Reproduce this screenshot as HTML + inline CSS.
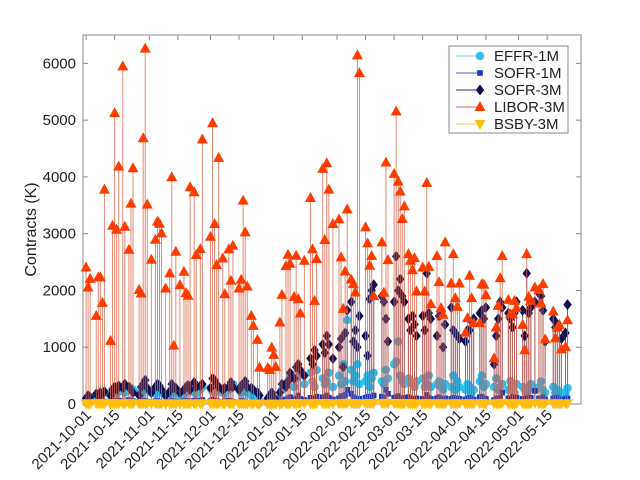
<!DOCTYPE html>
<html><head><meta charset="utf-8"><style>
body{margin:0;background:#fff;}
svg{display:block;font-family:"Liberation Sans",sans-serif;}
</style></head><body>
<svg id="chart" width="640" height="480"></svg>
<script>
// Day offsets from 2021-10-01 (trading days)
const days = [0,1,2,5,6,7,8,9,12,13,14,15,16,18,19,21,22,23,26,27,28,29,30,32,34,35,36,37,39,41,42,43,44,46,48,49,50,51,53,54,56,57,61,62,63,64,65,67,68,70,71,72,75,76,77,78,79,81,82,84,85,89,90,91,92,93,95,96,98,99,100,102,103,104,105,107,110,111,112,113,116,117,118,119,121,124,125,126,127,128,130,131,132,133,134,137,138,139,140,141,145,146,147,148,151,152,153,154,155,156,158,159,160,161,162,165,166,167,168,169,172,173,174,175,176,179,180,181,182,183,186,187,188,189,190,193,194,195,196,200,201,202,203,204,207,208,209,210,211,214,215,216,217,218,220,222,223,224,225,229,230,231,232,233,235,236];
const libor3m = [2405,2053,2205,1553,2230,2230,1782,3776,1112,3140,5123,3070,4182,5947,3123,2717,3529,4153,2011,1947,4682,6259,3512,2541,2894,3212,3176,3005,2035,2300,3994,1029,2682,2094,2329,1953,1906,3817,3729,2624,2729,4659,2947,4946,3171,2447,4335,2564,1935,2723,2170,2788,2035,2188,3582,3023,2070,1553,1376,1129,641,635,600,994,865,653,1435,1923,2429,2629,2470,1888,2611,1847,1594,2523,3629,2723,1817,2553,4141,2888,4241,3776,3171,3252,2582,1676,2335,3429,2194,2112,1964,6141,5829,3111,2829,2435,2606,1900,2847,1959,4253,2535,4053,5153,3918,3741,3259,3482,2641,2523,2359,2570,1982,2405,1982,3894,2417,1759,2606,2147,1688,1570,2847,2123,2641,1865,1711,2123,1258,1512,2259,1865,1424,1424,2112,2100,1918,806,1347,1729,2218,2606,1835,1582,1582,1817,1688,1394,947,2641,1888,1817,2053,2006,1770,2112,1141,1629,1159,1347,1394,965,1006,1476];
const sofr3m = [100,150,120,180,130,200,180,220,150,250,300,250,320,280,350,300,250,200,150,300,350,420,280,200,300,350,320,250,150,220,350,300,280,200,250,300,330,250,380,300,320,350,280,450,420,350,300,250,280,300,380,300,250,320,350,400,300,280,250,200,150,100,150,200,120,80,200,350,300,400,550,450,650,700,600,500,800,700,950,850,1050,900,1200,1050,800,1000,1150,650,1250,1650,1800,1100,1300,1000,1550,1200,850,1850,2000,2100,1900,1800,1500,1100,1800,2600,2000,2200,1900,1800,1500,1300,1550,1400,1200,1550,1300,2300,1600,1500,1200,1550,1650,1000,1400,1700,1300,1250,1200,1150,1100,1300,1300,1450,1500,1600,1650,1500,1700,700,1200,1500,1800,1700,1600,1500,1350,1600,1800,1650,1200,2300,1600,1700,1800,1950,1900,1650,1100,1500,1350,1400,1350,1150,1250,1750];
const effr1m = [60,80,100,120,90,150,180,200,150,250,200,180,220,250,200,300,280,250,200,180,300,280,250,200,180,220,250,200,150,180,250,200,220,150,180,200,300,250,200,180,250,300,280,220,200,250,300,200,180,250,300,350,250,200,300,250,200,150,100,80,50,60,50,80,60,50,100,250,350,400,500,300,450,600,500,350,550,400,300,600,450,350,400,550,300,500,350,700,400,1480,600,400,500,700,350,400,500,300,450,550,400,350,600,450,700,750,1100,500,400,350,450,400,350,300,400,450,300,350,500,300,350,400,300,250,350,300,500,250,400,300,250,350,300,200,250,400,500,300,350,300,450,250,300,350,250,400,300,200,350,300,250,200,300,350,250,300,400,250,200,300,200,250,150,200,200,280];
const sofr1m = [20,30,25,40,30,35,50,40,30,60,50,40,60,50,40,70,60,50,40,30,60,50,40,30,50,60,40,30,20,40,60,50,40,30,50,60,50,40,60,50,60,70,50,80,60,50,40,30,50,60,50,40,30,60,50,40,30,20,20,15,10,15,10,20,15,10,30,60,80,100,120,80,100,150,90,70,110,90,60,130,120,90,150,110,80,100,140,90,160,250,180,120,100,80,90,110,130,100,120,150,130,100,250,180,110,120,140,100,90,110,120,100,90,80,100,90,80,160,110,90,100,120,90,80,100,90,110,80,100,90,80,100,110,90,80,120,130,100,90,70,100,90,110,200,100,90,120,100,110,90,80,100,90,110,230,100,90,120,80,100,90,110,80,70,90,100];
const bsby3m = [10,12,8,15,10,12,14,10,8,15,12,10,14,12,10,15,12,10,8,12,14,12,10,8,12,14,10,8,6,10,12,10,8,6,10,12,10,8,12,10,12,14,10,15,12,10,8,6,10,12,10,8,6,12,10,8,6,5,5,4,3,4,3,5,4,3,6,8,10,12,14,10,12,16,12,10,14,12,10,15,14,12,16,14,10,12,15,12,16,20,18,14,12,10,12,14,16,12,14,18,16,12,20,18,14,15,16,12,10,14,15,12,10,8,12,10,8,16,14,10,12,14,10,8,12,10,14,10,12,10,8,12,14,10,8,14,16,12,10,8,12,10,14,20,12,10,14,12,14,10,8,12,10,14,20,12,10,14,8,12,10,14,8,6,10,12];
const yTicks = [0,1000,2000,3000,4000,5000,6000];
const xTickLabels = ["2021-10-01","2021-10-15","2021-11-01","2021-11-15","2021-12-01","2021-12-15","2022-01-01","2022-01-15","2022-02-01","2022-02-15","2022-03-01","2022-03-15","2022-04-01","2022-04-15","2022-05-01","2022-05-15"];

const NS="http://www.w3.org/2000/svg";
const svg=document.getElementById('chart');
const L=83,R=581,T=35,B=404;
const dMin=-1.5,dMax=242.6;
const yMax=6500;
function xs(d){return L+(d-dMin)/(dMax-dMin)*(R-L);}
function ys(v){return B-v/yMax*(B-T);}
function el(tag,attrs,parent){const e=document.createElementNS(NS,tag);for(const k in attrs)e.setAttribute(k,attrs[k]);(parent||svg).appendChild(e);return e;}
function dayOf(s){const t=Date.UTC(+s.slice(0,4),+s.slice(5,7)-1,+s.slice(8,10));return Math.round((t-Date.UTC(2021,9,1))/86400000);}

const frame=el('rect',{x:L,y:T,width:R-L,height:B-T,fill:'#fff',stroke:'#8a8a8a','stroke-width':1});



yTicks.forEach(v=>{
  const y=ys(v);
  const t1=el('line',{x1:L,x2:L+5,y1:y,y2:y,stroke:'#8a8a8a'});
  
  
  const t2=el('line',{x1:R,x2:R-5,y1:y,y2:y,stroke:'#8a8a8a'});
  
  
  const tx=el('text',{x:L-7,y:y+5,'text-anchor':'end','font-size':15,fill:'#222'});
  tx.textContent=v;
  
  
});
xTickLabels.forEach(s=>{
  const x=xs(dayOf(s));
  const t1=el('line',{x1:x,x2:x,y1:B,y2:B-5,stroke:'#8a8a8a'});
  
  
  const t2=el('line',{x1:x,x2:x,y1:T,y2:T+5,stroke:'#8a8a8a'});
  
  
  const ax=x+6,ay=B+12;
  const tx=el('text',{x:ax,y:ay,'text-anchor':'end','font-size':15,fill:'#222',transform:`rotate(-45 ${ax} ${ay})`});
  tx.textContent=s;
  
  
});
const yt=el('text',{x:36,y:(T+B)/2+10,'text-anchor':'middle','font-size':16,fill:'#222',transform:`rotate(-90 36 ${(T+B)/2+10})`});
yt.textContent='Contracts (K)';



function marker(kind,x,y,color,g){
  if(kind==='circle')return el('circle',{cx:x,cy:y,r:4.2,fill:color},g);
  if(kind==='square')return el('rect',{x:x-2.8,y:y-2.8,width:5.6,height:5.6,fill:color},g);
  if(kind==='diamond')return el('polygon',{points:`${x},${y-5.5} ${x+4.2},${y} ${x},${y+5.5} ${x-4.2},${y}`,fill:color},g);
  if(kind==='up')return el('polygon',{points:`${x},${y-6} ${x+5.5},${y+4} ${x-5.5},${y+4}`,fill:color},g);
  return el('polygon',{points:`${x},${y+6} ${x+5.5},${y-4} ${x-5.5},${y-4}`,fill:color},g);
}
const series=[
  {name:'EFFR-1M',vals:effr1m,kind:'circle',color:'#2fc0f0',stem:'#7fd3f0'},
  {name:'SOFR-1M',vals:sofr1m,kind:'square',color:'#1436c0',stem:'#5060b0'},
  {name:'SOFR-3M',vals:sofr3m,kind:'diamond',color:'#101050',stem:'#303070'},
  {name:'LIBOR-3M',vals:libor3m,kind:'up',color:'#ff3c00',stem:'#e06a50'},
  {name:'BSBY-3M',vals:bsby3m,kind:'down',color:'#ffbe10',stem:'#f0c860'}
];
series.forEach(s=>{
  const g=el('g',{});
  
  
  s.vals.forEach((v,i)=>{
    const x=xs(days[i]),y=ys(v);
    const st=el('line',{x1:x,x2:x,y1:B,y2:y,stroke:s.stem,'stroke-width':1,'stroke-opacity':0.8},g);
    
    
  });
  s.vals.forEach((v,i)=>{
    const m=marker(s.kind,xs(days[i]),ys(v),s.color,g);
    
    
  });
});

const lg=el('g',{});


const lb=el('rect',{x:449,y:46,width:119,height:87,fill:'#fff',stroke:'#8a8a8a'},lg);


series.forEach((s,i)=>{
  const y=56+i*17;
  const ln=el('line',{x1:456,x2:480,y1:y,y2:y,stroke:s.stem,'stroke-width':1},lg);
  
  
  const m=marker(s.kind,480,y,s.color,lg);
  
  
  const t=el('text',{x:494,y:y+5,'font-size':15,fill:'#222'},lg);
  t.textContent=s.name;
  
  
});
</script>
</body></html>
